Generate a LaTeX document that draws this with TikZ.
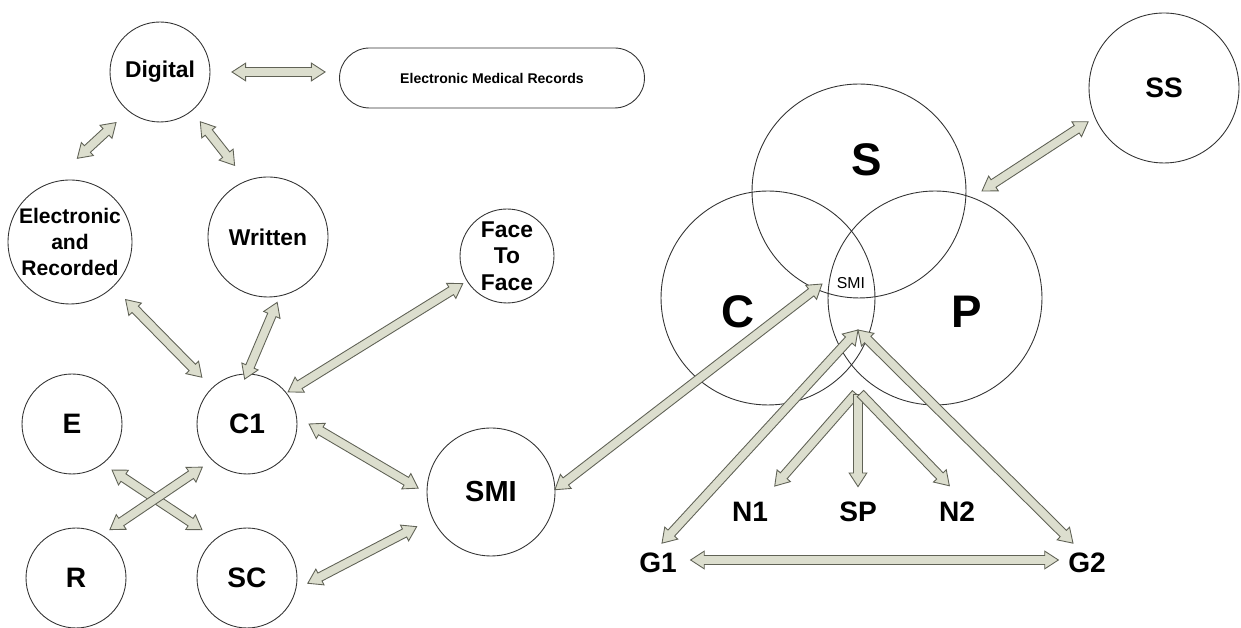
\documentclass[tikz,border=0pt]{standalone}
\usepackage{fontspec}
\setmainfont{Liberation Sans}
\usepackage{tikz}
\usetikzlibrary{shapes.arrows,calc,positioning}

\definecolor{arrowfill}{RGB}{220,222,206}
\definecolor{arrowline}{RGB}{96,98,86}

% block arrows between two points
\newcommand{\twoway}[2]{%
  \path let \p1=(#1), \p2=(#2), \n1={atan2(\y2-\y1,\x2-\x1)}, \n2={veclen(\x2-\x1,\y2-\y1)} in
    node[blockdbl, minimum height=\n2, rotate=\n1] at ($(\p1)!0.5!(\p2)$) {};}
\newcommand{\oneway}[2]{%
  \path let \p1=(#1), \p2=(#2), \n1={atan2(\y2-\y1,\x2-\x1)}, \n2={veclen(\x2-\x1,\y2-\y1)} in
    node[blocksgl, minimum height=\n2, rotate=\n1] at ($(\p1)!0.5!(\p2)$) {};}

\begin{document}
\begin{tikzpicture}[x=0.02cm,y=0.02cm]
	\tikzset{bubble/.style = {circle,draw=black!80,line width=0.5pt,inner sep=0pt}}
	\tikzset{tag/.style = {inner sep=2pt,font=\bfseries\fontsize{16}{18}\selectfont}}
	\tikzset{midfont/.style = {font=\bfseries\fontsize{13}{15}\selectfont}}
	\tikzset{bigfont/.style = {font=\bfseries\fontsize{26}{28}\selectfont}}
	\tikzset{blockdbl/.style = {double arrow,draw=arrowline,fill=arrowfill,line width=0.5pt,inner sep=2.3pt,
		double arrow head extend=2.5pt,double arrow tip angle=66,minimum width=0pt}}
	\tikzset{blocksgl/.style = {single arrow,draw=arrowline,fill=arrowfill,line width=0.5pt,inner sep=2.3pt,
		single arrow head extend=2.5pt,single arrow tip angle=66,minimum width=0pt}}

	\useasboundingbox (0,0) rectangle (1241,628);
	% vertices
	\node[bubble,minimum size=2cm,midfont] (dig) at (160,556) {Digital};
	\node[draw=black!80,line width=0.5pt,rounded corners=0.6cm,minimum width=6.1cm,minimum height=1.2cm,
		font=\bfseries\fontsize{8}{9}\selectfont] (emr) at (492,550) {Electronic Medical Records};
	\node[bubble,minimum size=2.48cm,align=center,font=\bfseries\fontsize{12}{15}\selectfont] (elec) at (70,386) {Electronic\\and\\Recorded};
	\node[bubble,minimum size=2.4cm,midfont] (wri) at (268,391) {Written};
	\node[bubble,minimum size=1.88cm,align=center,midfont] (face) at (507,372) {Face\\To\\Face};
	\node[bubble,minimum size=2cm,tag] (c1) at (247,204) {C1};
	\node[bubble,minimum size=2cm,tag] (e) at (72,204) {E};
	\node[bubble,minimum size=2cm,tag] (r) at (76,50) {R};
	\node[bubble,minimum size=2cm,tag] (sc) at (247,50) {SC};
	\node[bubble,minimum size=2.56cm,font=\bfseries\fontsize{16.5}{18}\selectfont] (smi) at (491,136) {SMI};

	% venn
	\node[bubble,minimum size=4.28cm] (vs) at (859,437) {};
	\node[bubble,minimum size=4.28cm] (vc) at (768,330) {};
	\node[bubble,minimum size=4.28cm] (vp) at (935,330) {};
	\node[bigfont] (slab) at (867,468) {S};
	\node[bigfont] (clab) at (738,316) {C};
	\node[bigfont] (plab) at (967,316) {P};
	\node[font=\fontsize{9}{10}\selectfont] (smilab) at (851,345) {SMI};
	\node[bubble,minimum size=3cm,tag] (ss) at (1164,540) {SS};

	\node[tag] (N1) at (750,116) {N1};
	\node[tag] (SP) at (858,116) {SP};
	\node[tag] (N2) at (957,116) {N2};
	\node[tag] (G1) at (658,65) {G1};
	\node[tag] (G2) at (1087,65) {G2};

	\coordinate (smitip) at (822,344);
	\coordinate (gtop) at (858,298);
	\coordinate (nhub) at (858,237);

	%edges
	\twoway{$(dig)+(0:72)$}{$(emr.west)+(-14,6)$}
	\twoway{$(dig)+(229:67)$}{$(elec)+(85:84)$}
	\twoway{$(dig)+(-51:64)$}{$(wri)+(115:79)$}
	\twoway{$(elec)+(-46:80)$}{$(c1)+(134:65)$}
	\twoway{$(wri)+(-82:66)$}{$(c1)+(93:45)$}
	\twoway{$(face)+(212:52)$}{$(c1)+(38:52)$}
	\twoway{$(c1)+(0:62)$}{$(smi)+(177:73)$}
	\twoway{$(e)+(-49:61)$}{$(sc)+(133:66)$}
	\twoway{$(r)+(55:59)$}{$(c1)+(224:62)$}
	\twoway{$(sc)+(-5:61)$}{$(smi)+(205:82)$}

	\twoway{$(smi)+(2:64)$}{smitip}
	\twoway{$(ss)+(204:83)$}{$(vs)+(0:123)$}
	\twoway{gtop}{$(G1.north)+(4,6)$}
	\twoway{gtop}{$(G2.north)+(-14,6)$}
	\twoway{$(G1.east)+(10,3)$}{$(G2.west)+(-6,3)$}

	\oneway{nhub}{$(N1.north)+(27,15)$}
	\oneway{nhub}{$(SP.north)+(0,15)$}
	\oneway{nhub}{$(N2.north)+(-10,15)$}
\end{tikzpicture}
\end{document}
